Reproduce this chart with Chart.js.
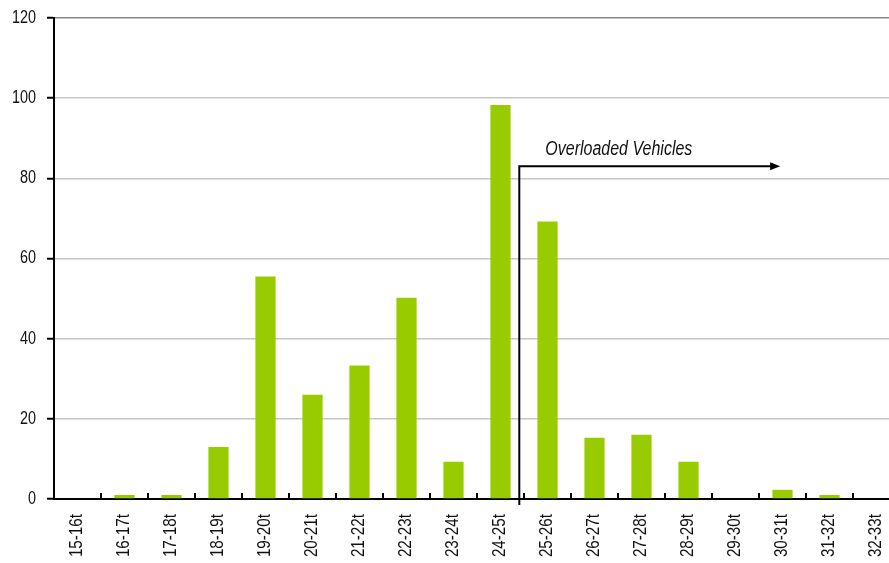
<!DOCTYPE html>
<html>
<head>
<meta charset="utf-8">
<title>Axle load distribution</title>
<script src="https://cdn.jsdelivr.net/npm/chart.js@4/dist/chart.umd.min.js"></script>
<style>
    html, body { margin: 0; padding: 0; background: #fff; overflow: hidden; }
    #wrap { position: relative; width: 889px; height: 563px; overflow: hidden; }
    #chart { position: absolute; left: 0; top: 0; }
</style>
</head>
<body>
<div id="wrap"><canvas id="chart" width="901" height="563"></canvas></div>
<script>
// Weight classes and vehicle counts
const weightClasses = ['15-16t', '16-17t', '17-18t', '18-19t', '19-20t', '20-21t', '21-22t', '22-23t', '23-24t',
    '24-25t', '25-26t', '26-27t', '27-28t', '28-29t', '29-30t', '30-31t', '31-32t', '32-33t'];
const vehicleCounts = [0, 1, 1, 13, 55.5, 26, 33.3, 50.2, 9.3, 98.3, 69.2, 15.3, 16, 9.3, 0, 2.3, 1, 0];
const yTicks = [0, 20, 40, 60, 80, 100, 120];

// Overload marker: starts just past 24-25t, points to 30-31t
const overloadLabel = 'Overloaded Vehicles';
const overloadStart = 9.4;
const overloadEnd = 14.95;
const overloadLevel = 83;
const overloadTextLevel = 85.8;

const FONT = '"Liberation Sans", Arial, sans-serif';
const TEXT_COLOR = '#111';
const SQUEEZE = 0.8;   // narrow look for all text

// Short upward ticks at the category boundaries on the x axis
const innerTicks = {
    id: 'innerTicks',
    afterDraw(chart) {
        const x = chart.scales.x;
        const ctx = chart.ctx;
        const bottom = chart.chartArea.bottom;
        const step = x.getPixelForValue(1) - x.getPixelForValue(0);
        ctx.save();
        ctx.strokeStyle = '#000';
        ctx.lineWidth = 2;
        ctx.beginPath();
        for (let i = 0; i < weightClasses.length; i++) {
            const px = Math.round(x.getPixelForValue(i) + step / 2);
            ctx.moveTo(px, bottom);
            ctx.lineTo(px, bottom - 6);
        }
        ctx.stroke();
        ctx.restore();
    }
};

// Tick labels in a condensed face, placed from the scales
const narrowLabels = {
    id: 'narrowLabels',
    afterDraw(chart) {
        const x = chart.scales.x;
        const y = chart.scales.y;
        const ctx = chart.ctx;
        ctx.save();
        ctx.fillStyle = TEXT_COLOR;
        ctx.textAlign = 'right';
        ctx.textBaseline = 'middle';
        ctx.font = '18px ' + FONT;
        yTicks.forEach(v => {
            ctx.save();
            ctx.translate(y.right - 18, y.getPixelForValue(v));
            ctx.scale(SQUEEZE, 1);
            ctx.fillText(String(v), 0, 0);
            ctx.restore();
        });
        ctx.font = '19px ' + FONT;
        const top = chart.chartArea.bottom + 15;
        weightClasses.forEach((label, i) => {
            ctx.save();
            ctx.translate(x.getPixelForValue(i) - 1, top);
            ctx.rotate(-Math.PI / 2);
            ctx.scale(SQUEEZE, 1);
            ctx.fillText(label, 0, 0);
            ctx.restore();
        });
        ctx.restore();
    }
};

// Bracket line with arrow and italic caption
const overloadMarker = {
    id: 'overloadMarker',
    afterDatasetsDraw(chart) {
        const x = chart.scales.x;
        const y = chart.scales.y;
        const ctx = chart.ctx;
        const step = x.getPixelForValue(1) - x.getPixelForValue(0);
        const x0 = x.getPixelForValue(0) + overloadStart * step;
        const x1 = x.getPixelForValue(0) + overloadEnd * step;
        const yBase = y.getPixelForValue(0);
        const yLine = y.getPixelForValue(overloadLevel);
        ctx.save();
        ctx.strokeStyle = '#000';
        ctx.fillStyle = '#000';
        ctx.lineWidth = 2;
        ctx.beginPath();
        ctx.moveTo(x0, yBase + 6);
        ctx.lineTo(x0, yLine);
        ctx.lineTo(x1 - 8, yLine);
        ctx.stroke();
        ctx.beginPath();
        ctx.moveTo(x1, yLine);
        ctx.lineTo(x1 - 10, yLine - 4);
        ctx.lineTo(x1 - 10, yLine + 4);
        ctx.closePath();
        ctx.fill();
        ctx.fillStyle = TEXT_COLOR;
        ctx.font = 'italic 20px ' + FONT;
        ctx.textBaseline = 'alphabetic';
        ctx.translate(x0 + 26, y.getPixelForValue(overloadTextLevel));
        ctx.scale(SQUEEZE, 1);
        ctx.fillText(overloadLabel, 0, 0);
        ctx.restore();
    }
};

new Chart(document.getElementById('chart'), {
    type: 'bar',
    data: {
        labels: weightClasses,
        datasets: [{
            data: vehicleCounts,
            backgroundColor: '#99cc00',
            borderWidth: 0,
            categoryPercentage: 1,
            barPercentage: 0.43
        }]
    },
    options: {
        responsive: false,
        animation: false,
        layout: { padding: { top: 18, right: 1, left: 0, bottom: 0 } },
        plugins: {
            legend: { display: false },
            tooltip: { enabled: false }
        },
        scales: {
            x: {
                grid: { display: false, drawTicks: false },
                border: { display: true, color: '#000', width: 2 },
                ticks: { display: false },
                afterFit(scale) { scale.height = 64; }
            },
            y: {
                min: 0,
                max: 120,
                afterBuildTicks(scale) { scale.ticks = yTicks.map(v => ({ value: v })); },
                grid: {
                    color: ctx => ctx.tick && ctx.tick.value === 120 ? '#888888' : '#c6c6c6',
                    lineWidth: 1.5,
                    tickColor: '#000',
                    tickLength: 7,
                    tickWidth: 2
                },
                border: { display: true, color: '#000', width: 2 },
                ticks: { display: false },
                afterFit(scale) { scale.width = 54; }
            }
        }
    },
    plugins: [innerTicks, narrowLabels, overloadMarker]
});
</script>
</body>
</html>
